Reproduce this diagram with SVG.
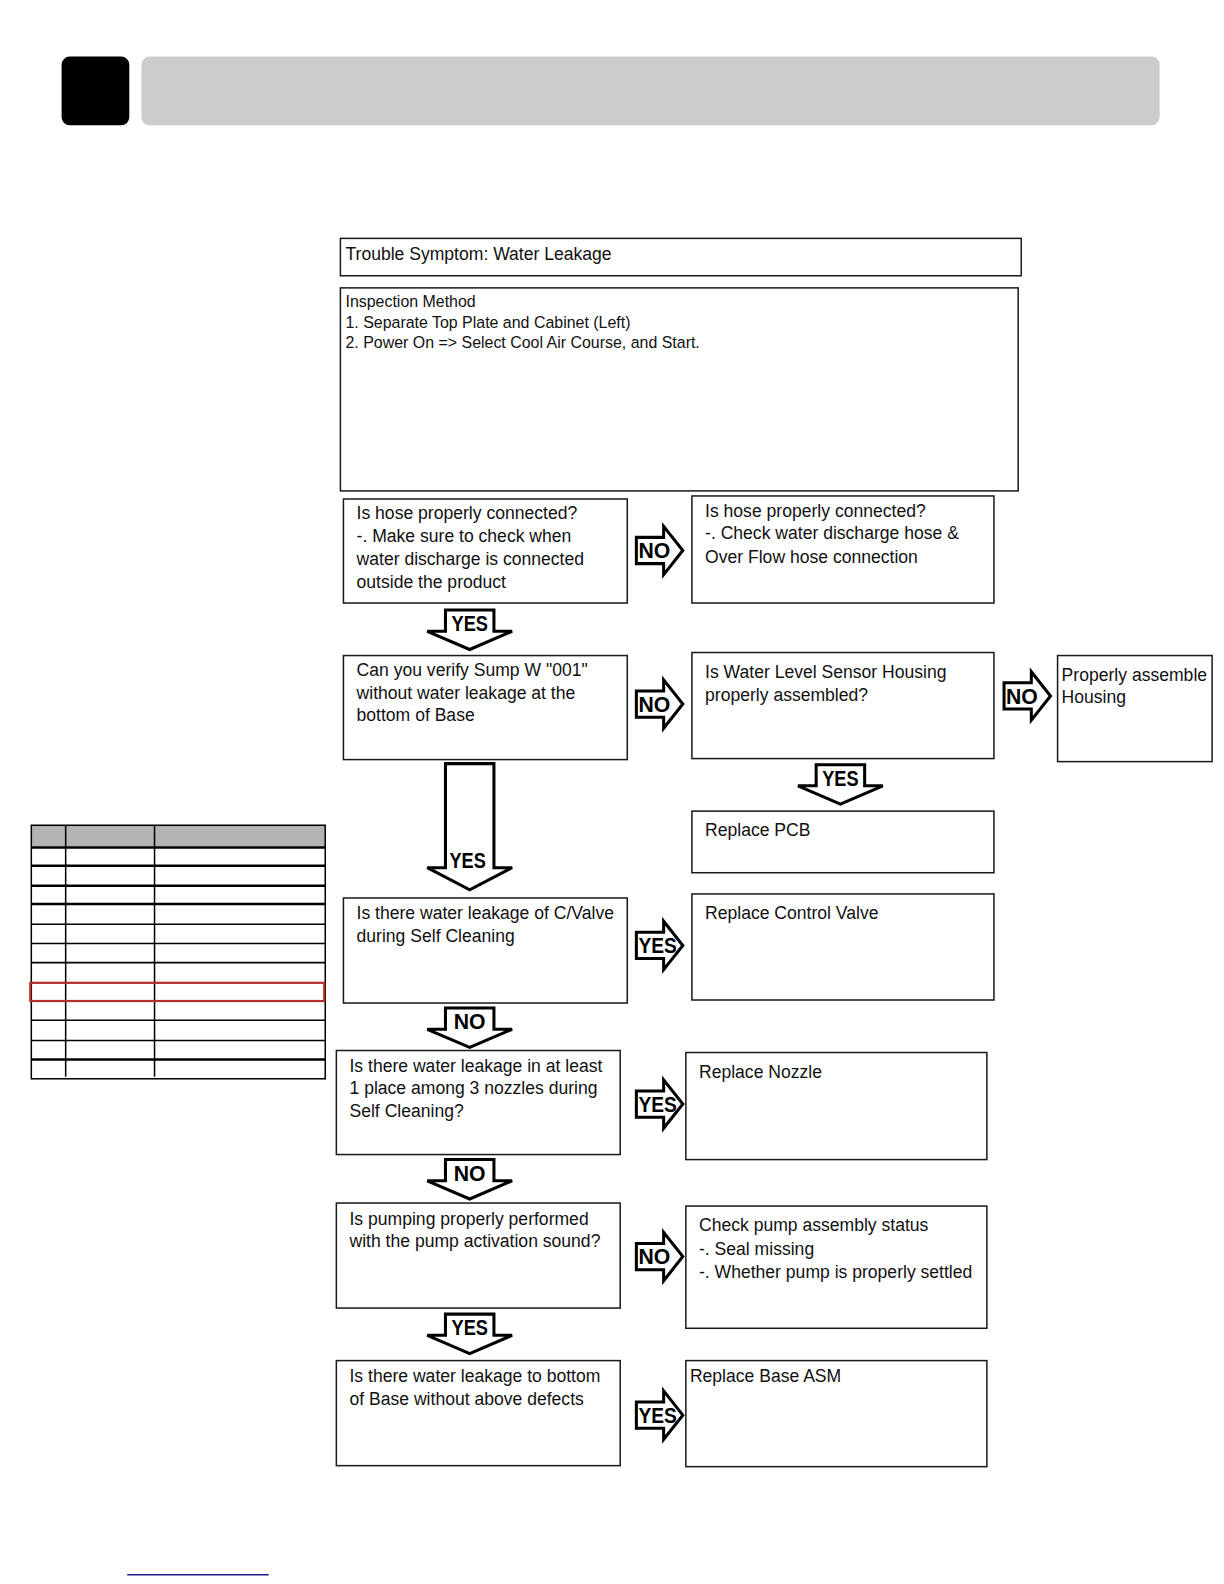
<svg xmlns="http://www.w3.org/2000/svg" width="1224" height="1584" viewBox="0 0 1224 1584">
<style>
.box{fill:#fff;stroke:#1a1a1a;stroke-width:1.5}
.t{font-family:"Liberation Sans",Arial,sans-serif;font-size:17.4px;fill:#111}
.ts{font-family:"Liberation Sans",Arial,sans-serif;font-size:15.8px;fill:#111}
.arr{fill:#fff;stroke:#000;stroke-width:3;stroke-linejoin:miter}
.al{font-family:"Liberation Sans",Arial,sans-serif;font-size:21px;font-weight:bold;fill:#000}
.tl{stroke:#000;stroke-width:1.5;fill:none}
.tk{stroke:#000;stroke-width:2.5;fill:none}
</style>
<defs>
<path id="ra" d="M0,11 H27 V0 L46,24 L27,48 V37 H0 Z"/>
<path id="da" d="M18,0 H66 V21 H84 L42,39 L0,21 H18 Z"/>
</defs>
<rect width="1224" height="1584" fill="#fff"/>
<g id="page" transform="scale(1.0101)">

<g id="header">
<rect x="61" y="56" width="67" height="68" rx="8" fill="#000"/>
<rect x="140" y="56" width="1008" height="68" rx="8" fill="#cccccc"/>
</g>

<g id="side-table">
<rect x="31" y="817" width="291" height="22" fill="#b3b3b3"/>
<rect x="31" y="817" width="291" height="251" class="tl"/>
<line x1="65" y1="817" x2="65" y2="1066" class="tl"/>
<line x1="153" y1="817" x2="153" y2="1066" class="tl"/>
<line x1="31" y1="839" x2="322" y2="839" class="tk"/>
<line x1="31" y1="857" x2="322" y2="857" class="tk"/>
<line x1="31" y1="877" x2="322" y2="877" class="tk"/>
<line x1="31" y1="895" x2="322" y2="895" class="tk"/>
<line x1="31" y1="915" x2="322" y2="915" class="tl"/>
<line x1="31" y1="934" x2="322" y2="934" class="tl"/>
<line x1="31" y1="953" x2="322" y2="953" class="tl"/>
<line x1="31" y1="1010" x2="322" y2="1010" class="tl"/>
<line x1="31" y1="1030" x2="322" y2="1030" class="tl"/>
<line x1="31" y1="1049" x2="322" y2="1049" class="tk"/>
<rect x="30" y="973" width="291" height="18" fill="none" stroke="#b3302a" stroke-width="2.2"/>
</g>

<g id="trouble">
<rect class="box" x="337" y="236" width="674" height="37"/>
<text class="t" x="342" y="257">Trouble Symptom: Water Leakage</text>
</g>

<g id="inspection">
<rect class="box" x="337" y="285" width="671" height="201"/>
<text class="ts" x="342" y="304">Inspection Method</text>
<text class="ts" x="342" y="325">1. Separate Top Plate and Cabinet (Left)</text>
<text class="ts" x="342" y="345">2. Power On =&gt; Select Cool Air Course, and Start.</text>
</g>

<g id="q-hose">
<rect class="box" x="340" y="494" width="281" height="103"/>
<text class="t" x="353" y="514">Is hose properly connected?</text>
<text class="t" x="353" y="537">-. Make sure to check when</text>
<text class="t" x="353" y="559">water discharge is connected</text>
<text class="t" x="353" y="582">outside the product</text>
</g>

<g id="check-hose">
<rect class="box" x="685" y="491" width="299" height="106"/>
<text class="t" x="698" y="512">Is hose properly connected?</text>
<text class="t" x="698" y="534">-. Check water discharge hose &amp;</text>
<text class="t" x="698" y="557">Over Flow hose connection</text>
</g>

<g id="q-sump">
<rect class="box" x="340" y="649" width="281" height="103"/>
<text class="t" x="353" y="669">Can you verify Sump W "001"</text>
<text class="t" x="353" y="692">without water leakage at the</text>
<text class="t" x="353" y="714">bottom of Base</text>
</g>

<g id="q-sensor">
<rect class="box" x="685" y="646" width="299" height="105"/>
<text class="t" x="698" y="671">Is Water Level Sensor Housing</text>
<text class="t" x="698" y="694">properly assembled?</text>
</g>

<g id="assemble-housing">
<rect class="box" x="1047" y="649" width="153" height="105"/>
<text class="t" x="1051" y="674">Properly assemble</text>
<text class="t" x="1051" y="696">Housing</text>
</g>

<g id="replace-pcb">
<rect class="box" x="685" y="803" width="299" height="61"/>
<text class="t" x="698" y="828">Replace PCB</text>
</g>

<g id="q-cvalve">
<rect class="box" x="340" y="889" width="281" height="104"/>
<text class="t" x="353" y="910">Is there water leakage of C/Valve</text>
<text class="t" x="353" y="933">during Self Cleaning</text>
</g>

<g id="replace-valve">
<rect class="box" x="685" y="885" width="299" height="105"/>
<text class="t" x="698" y="910">Replace Control Valve</text>
</g>

<g id="q-nozzle">
<rect class="box" x="333" y="1040" width="281" height="103"/>
<text class="t" x="346" y="1061">Is there water leakage in at least</text>
<text class="t" x="346" y="1083">1 place among 3 nozzles during</text>
<text class="t" x="346" y="1106">Self Cleaning?</text>
</g>

<g id="replace-nozzle">
<rect class="box" x="679" y="1042" width="298" height="106"/>
<text class="t" x="692" y="1067">Replace Nozzle</text>
</g>

<g id="q-pump">
<rect class="box" x="333" y="1191" width="281" height="104"/>
<text class="t" x="346" y="1213">Is pumping properly performed</text>
<text class="t" x="346" y="1235">with the pump activation sound?</text>
</g>

<g id="check-pump">
<rect class="box" x="679" y="1194" width="298" height="121"/>
<text class="t" x="692" y="1219">Check pump assembly status</text>
<text class="t" x="692" y="1242">-. Seal missing</text>
<text class="t" x="692" y="1265">-. Whether pump is properly settled</text>
</g>

<g id="q-base">
<rect class="box" x="333" y="1347" width="281" height="104"/>
<text class="t" x="346" y="1368">Is there water leakage to bottom</text>
<text class="t" x="346" y="1391">of Base without above defects</text>
</g>

<g id="replace-base">
<rect class="box" x="679" y="1347" width="298" height="105"/>
<text class="t" x="683" y="1368">Replace Base ASM</text>
</g>

<g id="connectors">
<g transform="translate(630,521)"><use href="#ra" class="arr"/><text class="al" x="2" y="31.5">NO</text></g>
<g transform="translate(630,673)"><use href="#ra" class="arr"/><text class="al" x="2" y="31.5">NO</text></g>
<g transform="translate(994,665)"><use href="#ra" class="arr"/><text class="al" x="2" y="31.5">NO</text></g>
<g transform="translate(630,912)"><use href="#ra" class="arr"/><text class="al" x="2" y="31.5" textLength="38" lengthAdjust="spacingAndGlyphs">YES</text></g>
<g transform="translate(630,1069)"><use href="#ra" class="arr"/><text class="al" x="2" y="31.5" textLength="38" lengthAdjust="spacingAndGlyphs">YES</text></g>
<g transform="translate(630,1220)"><use href="#ra" class="arr"/><text class="al" x="2" y="31.5">NO</text></g>
<g transform="translate(630,1377)"><use href="#ra" class="arr"/><text class="al" x="2" y="31.5" textLength="38" lengthAdjust="spacingAndGlyphs">YES</text></g>

<g transform="translate(423,604)"><use href="#da" class="arr"/><text class="al" x="42" y="21" text-anchor="middle" textLength="36" lengthAdjust="spacingAndGlyphs">YES</text></g>
<g transform="translate(790,757)"><use href="#da" class="arr"/><text class="al" x="42" y="21" text-anchor="middle" textLength="36" lengthAdjust="spacingAndGlyphs">YES</text></g>
<g transform="translate(423,998)"><use href="#da" class="arr"/><text class="al" x="42" y="21" text-anchor="middle">NO</text></g>
<g transform="translate(423,1148)"><use href="#da" class="arr"/><text class="al" x="42" y="21" text-anchor="middle">NO</text></g>
<g transform="translate(423,1301)"><use href="#da" class="arr"/><text class="al" x="42" y="21" text-anchor="middle" textLength="36" lengthAdjust="spacingAndGlyphs">YES</text></g>
<g transform="translate(423,756)"><path class="arr" d="M18,0 H66 V103 H84 L42,125 L0,103 H18 Z"/><text class="al" x="40" y="103" text-anchor="middle" textLength="36" lengthAdjust="spacingAndGlyphs">YES</text></g>
</g>

<line x1="126" y1="1559" x2="266" y2="1559" stroke="#1c1c8c" stroke-width="1.5"/>
</g>
</svg>
